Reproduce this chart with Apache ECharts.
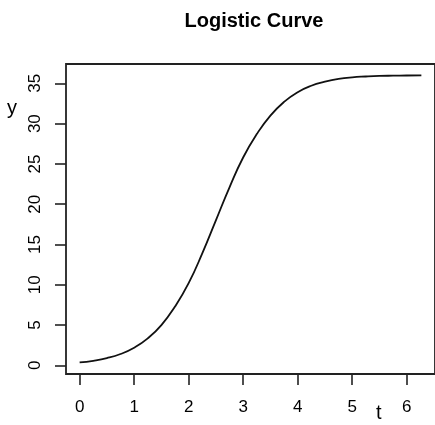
<!DOCTYPE html>
<html>
<head>
<meta charset="utf-8">
<script src="https://cdn.jsdelivr.net/npm/echarts@6/dist/echarts.min.js"></script>
<style>
  html, body { margin: 0; padding: 0; background: #fff; }
  #chart { width: 435px; height: 425px; }
</style>
</head>
<body>
<div id="chart"></div>
<script>
// values
var tValues = [0, 0.25, 0.5, 0.75, 1, 1.25, 1.5, 1.75, 2, 2.25, 2.5, 2.75, 3, 3.25,
  3.5, 3.75, 4, 4.25, 4.5, 4.75, 5, 5.25, 5.5, 5.75, 6, 6.27];
var yValues = [0.36, 0.57, 0.9, 1.41, 2.19, 3.35, 5.0, 7.3, 10.2, 13.9, 18.0, 22.1, 25.8, 28.7,
  31.0, 32.7, 33.9, 34.7, 35.2, 35.55, 35.75, 35.85, 35.92, 35.95, 35.97, 35.98];
var xTicks = [0, 1, 2, 3, 4, 5, 6];
var yTicks = [0, 5, 10, 15, 20, 25, 30, 35];

var points = tValues.map(function (t, i) { return [t, yValues[i]]; });

var chart = echarts.init(document.getElementById('chart'));
chart.setOption({
  animation: false,
  title: {
    text: 'Logistic Curve',
    left: 249,
    textAlign: 'center',
    top: 6,
    textStyle: { fontFamily: 'Liberation Sans', fontWeight: 'bold', fontSize: 20, color: '#000' }
  },
  grid: {
    left: 66,
    top: 64,
    right: -4,
    bottom: 51,
    show: true,
    borderColor: '#222',
    borderWidth: 1.8
  },
  xAxis: {
    type: 'value',
    min: -0.25,
    max: 6.52,
    splitLine: { show: false },
    axisLine: { show: false, onZero: false },
    axisTick: { show: true, inside: false, length: 11, customValues: xTicks,
      lineStyle: { color: '#222', width: 1.6 } },
    axisLabel: { customValues: xTicks, margin: 25, color: '#000',
      fontFamily: 'Liberation Sans', fontSize: 17 }
  },
  yAxis: {
    type: 'value',
    min: -1.07,
    max: 37.4,
    splitLine: { show: false },
    axisLine: { show: false, onZero: false },
    axisTick: { show: true, inside: false, length: 11, customValues: yTicks,
      lineStyle: { color: '#222', width: 1.6 } },
    axisLabel: { customValues: yTicks, rotate: 90, margin: 22, color: '#000',
      fontFamily: 'Liberation Sans', fontSize: 17 }
  },
  graphic: [
    { type: 'text', left: 7, top: 98,
      style: { text: 'y', fontFamily: 'Liberation Sans', fontSize: 20, fill: '#000' } },
    { type: 'text', left: 376, top: 403,
      style: { text: 't', fontFamily: 'Liberation Sans', fontSize: 20, fill: '#000' } }
  ],
  series: [{
    type: 'line',
    data: points,
    smooth: true,
    showSymbol: false,
    lineStyle: { color: '#111', width: 1.8 }
  }]
});
</script>
</body>
</html>
